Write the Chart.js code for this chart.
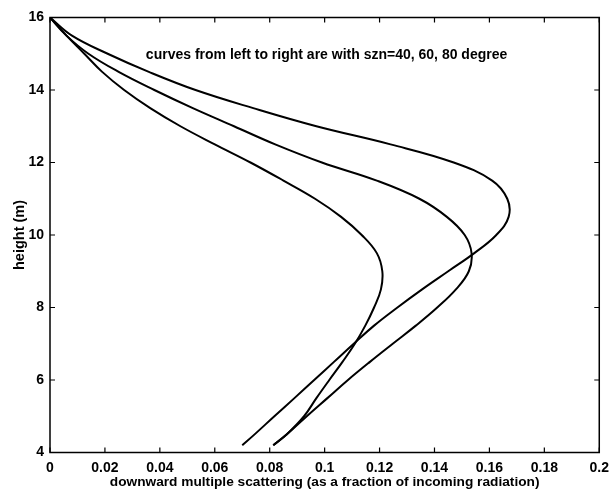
<!DOCTYPE html>
<html>
<head>
<meta charset="utf-8">
<script src="https://cdn.jsdelivr.net/npm/chart.js@4.4.0/dist/chart.umd.min.js"></script>
<style>
	html, body { margin: 0; padding: 0; background: #fff; }
	#scatterChart { display: block; }
</style>
</head>
<body>
<canvas id="scatterChart" width="616" height="490"></canvas>
<script>
// heights (m) and downward multiple scattering for each solar zenith angle
const height40 = [16, 15.5, 15, 14.5, 14, 13.5, 13, 12.5, 12, 11.5, 11, 10.5, 10, 9.5, 9, 8.5, 8, 7.5, 7, 6.5, 6, 5.5, 5, 4.5, 4.2];
const frac40 = [0, 0.006, 0.0125, 0.019, 0.027, 0.0365, 0.0475, 0.060, 0.073, 0.085, 0.0965, 0.106, 0.1135, 0.119, 0.121, 0.1205, 0.118, 0.1148, 0.111, 0.1065, 0.1017, 0.097, 0.0925, 0.0862, 0.0813];

const height60 = [16, 15.5, 15, 14.5, 14, 13.5, 13, 12.5, 12, 11.5, 11, 10.5, 10, 9.5, 9, 8.5, 8, 7.5, 7, 6.5, 6, 5.5, 5, 4.5, 4.2];
const frac60 = [0, 0.006, 0.014, 0.025, 0.038, 0.052, 0.067, 0.082, 0.099, 0.119, 0.1345, 0.1445, 0.151, 0.1535, 0.1525, 0.1478, 0.141, 0.1332, 0.1248, 0.1165, 0.1085, 0.101, 0.0935, 0.0862, 0.0813];

const height80 = [16, 15.5, 15, 14.5, 14, 13.5, 13, 12.5, 12, 11.5, 11, 10.5, 10, 9.5, 9, 8.5, 8, 7.5, 7, 6.5, 6, 5.5, 5, 4.5, 4.2];
const frac80 = [0, 0.008, 0.021, 0.036, 0.053, 0.074, 0.097, 0.124, 0.147, 0.161, 0.1665, 0.167, 0.1625, 0.1545, 0.145, 0.1355, 0.1265, 0.118, 0.1106, 0.1034, 0.0962, 0.089, 0.0817, 0.0745, 0.070];

const xTickLabels = ["0", "0.02", "0.04", "0.06", "0.08", "0.1", "0.12", "0.14", "0.16", "0.18", "0.2"];
const yTickLabels = ["4", "6", "8", "10", "12", "14", "16"];

const noteText = "curves from left to right are with szn=40, 60, 80 degree";
const noteAt = { x: 0.0349, y: 14.86 };

const toPoints = (xs, ys) => xs.map((v, i) => ({ x: v, y: ys[i] }));

const curve = (data) => ({
	data: data,
	showLine: true,
	borderColor: "#000",
	borderWidth: 2,
	pointRadius: 0,
	tension: 0.4,
	fill: false,
});

const fontFamily = "'Liberation Sans', Arial, sans-serif";

// box around the plot, inward tick marks and the note
const framePlugin = {
	id: "frame",
	afterDatasetsDraw(chart) {
		const { ctx, chartArea: a, scales } = chart;
		const len = 5;
		ctx.save();
		ctx.strokeStyle = "#000";
		ctx.lineWidth = 1.5;
		ctx.strokeRect(a.left, a.top, a.right - a.left, a.bottom - a.top);
		ctx.lineWidth = 1.2;
		ctx.beginPath();
		scales.x.ticks.forEach((t) => {
			const px = scales.x.getPixelForValue(t.value);
			ctx.moveTo(px, a.bottom);
			ctx.lineTo(px, a.bottom - len);
			ctx.moveTo(px, a.top);
			ctx.lineTo(px, a.top + len);
		});
		scales.y.ticks.forEach((t) => {
			const py = scales.y.getPixelForValue(t.value);
			ctx.moveTo(a.left, py);
			ctx.lineTo(a.left + len, py);
			ctx.moveTo(a.right, py);
			ctx.lineTo(a.right - len, py);
		});
		ctx.stroke();

		ctx.fillStyle = "#000";
		ctx.font = "bold 14px " + fontFamily;
		ctx.textAlign = "left";
		ctx.textBaseline = "alphabetic";
		ctx.fillText(noteText, scales.x.getPixelForValue(noteAt.x), scales.y.getPixelForValue(noteAt.y));
		ctx.restore();
	},
};

const ctx = document.getElementById("scatterChart").getContext("2d");

new Chart(ctx, {
	type: "scatter",
	data: {
		datasets: [
			curve(toPoints(frac40, height40)),
			curve(toPoints(frac60, height60)),
			curve(toPoints(frac80, height80)),
		],
	},
	options: {
		responsive: false,
		animation: false,
		layout: { padding: { top: 17.5, right: 10, left: 0, bottom: 0 } },
		plugins: {
			legend: { display: false },
			tooltip: { enabled: false },
		},
		scales: {
			x: {
				type: "linear",
				min: 0,
				max: 0.2,
				grid: { display: false, drawTicks: false },
				border: { display: false },
				afterFit: (s) => { s.height = 37.5; },
				ticks: {
					stepSize: 0.02,
					padding: 7,
					color: "#000",
					font: { family: fontFamily, size: 14, weight: "bold" },
					maxRotation: 0,
					autoSkip: false,
					callback: (v, i) => xTickLabels[i],
				},
				title: {
					display: true,
					text: "downward multiple scattering (as a fraction of incoming radiation)",
					color: "#000",
					font: { family: fontFamily, size: 13.7, weight: "bold" },
					padding: { top: 0, bottom: 0 },
				},
			},
			y: {
				type: "linear",
				min: 4,
				max: 16,
				grid: { display: false, drawTicks: false },
				border: { display: false },
				afterFit: (s) => { s.width = 50; },
				ticks: {
					stepSize: 2,
					padding: 6,
					color: "#000",
					font: { family: fontFamily, size: 14, weight: "bold" },
					autoSkip: false,
					callback: (v, i) => yTickLabels[i],
				},
				title: {
					display: true,
					text: "height (m)",
					color: "#000",
					font: { family: fontFamily, size: 14.5, weight: "bold" },
					padding: { top: 11, bottom: 0 },
				},
			},
		},
	},
	plugins: [framePlugin],
});
</script>
</body>
</html>
